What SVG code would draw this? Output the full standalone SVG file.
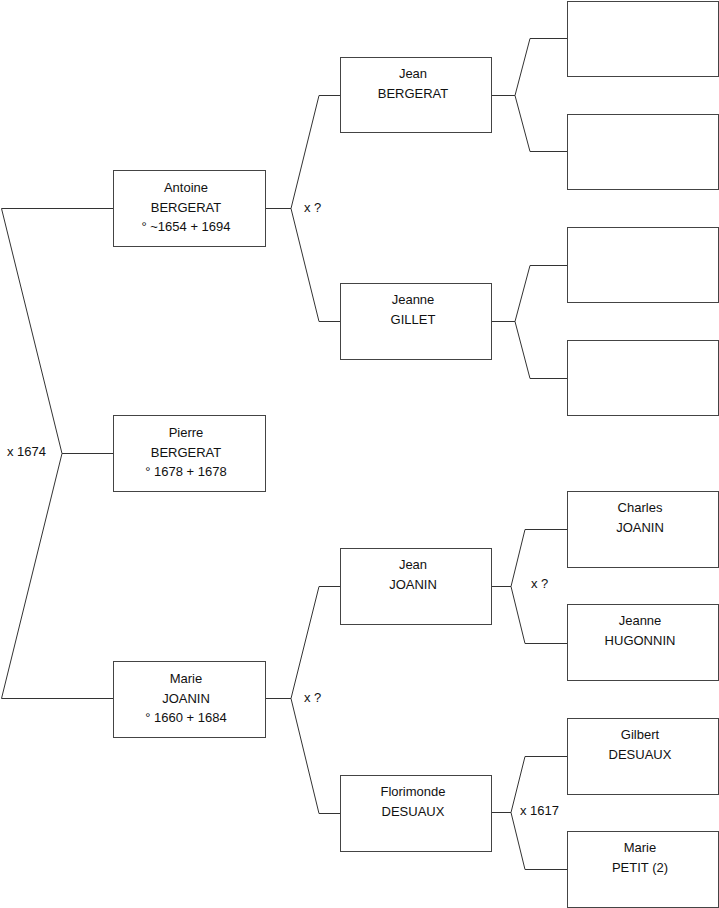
<svg xmlns="http://www.w3.org/2000/svg" width="719" height="908" viewBox="0 0 719 908">
<style>
.box{fill:#fff;stroke:#444;stroke-width:1}
.con{fill:none;stroke:#333;stroke-width:1}
text{font-family:"Liberation Sans",Arial,sans-serif;font-size:13px;fill:#111}
.c{text-anchor:middle}
</style>
<rect width="719" height="908" fill="#fff"/>
<g id="connectors">
<path class="con" d="M114,208.5H1.5L62,453.5L1.5,698.5H114M62,453.5H114"/>
<path class="con" d="M265,208.5H291M341,95.5H319L291,208.5L319,321.5H341"/>
<path class="con" d="M265,698.5H291M341,586.5H319L291,698.5L319,813.5H341"/>
<path class="con" d="M492,95.5H515M567,38.5H530L515,95.5L530,151.5H567"/>
<path class="con" d="M492,321.5H515M567,265.5H530L515,321.5L530,378.5H567"/>
<path class="con" d="M492,586.5H511M567,529.5H525L511,586.5L525,643.5H567"/>
<path class="con" d="M492,812.5H511M567,756.5H525L511,812.5L525,869.5H567"/>
<text x="304" y="212">x ?</text>
<text x="7" y="456">x 1674</text>
<text x="304" y="702">x ?</text>
<text x="531" y="588">x ?</text>
<text x="520" y="815">x 1617</text>
</g>
<g id="antoine"><rect class="box" x="113.5" y="170.5" width="152" height="76"/>
<text class="c" x="186" y="192">Antoine</text><text class="c" x="186" y="212">BERGERAT</text><text class="c" x="186" y="231">° ~1654 + 1694</text></g>
<g id="pierre"><rect class="box" x="113.5" y="415.5" width="152" height="76"/>
<text class="c" x="186" y="437">Pierre</text><text class="c" x="186" y="457">BERGERAT</text><text class="c" x="186" y="476">° 1678 + 1678</text></g>
<g id="marie-joanin"><rect class="box" x="113.5" y="661.5" width="152" height="76"/>
<text class="c" x="186" y="683">Marie</text><text class="c" x="186" y="703">JOANIN</text><text class="c" x="186" y="722">° 1660 + 1684</text></g>
<g id="jean-bergerat"><rect class="box" x="340.5" y="57.5" width="151" height="75"/>
<text class="c" x="413" y="78">Jean</text><text class="c" x="413" y="98">BERGERAT</text></g>
<g id="jeanne-gillet"><rect class="box" x="340.5" y="283.5" width="151" height="76"/>
<text class="c" x="413" y="304">Jeanne</text><text class="c" x="413" y="324">GILLET</text></g>
<g id="jean-joanin"><rect class="box" x="340.5" y="548.5" width="151" height="76"/>
<text class="c" x="413" y="569">Jean</text><text class="c" x="413" y="589">JOANIN</text></g>
<g id="florimonde"><rect class="box" x="340.5" y="775.5" width="151" height="76"/>
<text class="c" x="413" y="796">Florimonde</text><text class="c" x="413" y="816">DESUAUX</text></g>
<g id="empty1"><rect class="box" x="567.5" y="1.5" width="151" height="75"/></g>
<g id="empty2"><rect class="box" x="567.5" y="114.5" width="151" height="75"/></g>
<g id="empty3"><rect class="box" x="567.5" y="227.5" width="151" height="75"/></g>
<g id="empty4"><rect class="box" x="567.5" y="340.5" width="151" height="75"/></g>
<g id="charles"><rect class="box" x="567.5" y="491.5" width="151" height="76"/>
<text class="c" x="640" y="512">Charles</text><text class="c" x="640" y="532">JOANIN</text></g>
<g id="hugonnin"><rect class="box" x="567.5" y="604.5" width="151" height="76"/>
<text class="c" x="640" y="625">Jeanne</text><text class="c" x="640" y="645">HUGONNIN</text></g>
<g id="gilbert"><rect class="box" x="567.5" y="718.5" width="151" height="76"/>
<text class="c" x="640" y="739">Gilbert</text><text class="c" x="640" y="759">DESUAUX</text></g>
<g id="marie-petit"><rect class="box" x="567.5" y="831.5" width="151" height="76"/>
<text class="c" x="640" y="852">Marie</text><text class="c" x="640" y="872">PETIT (2)</text></g>
</svg>
